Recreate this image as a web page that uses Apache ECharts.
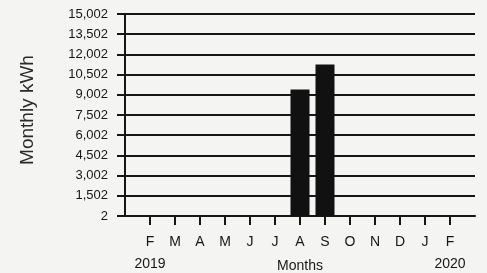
<!DOCTYPE html>
<html>
<head>
<meta charset="utf-8">
<script src="https://cdn.jsdelivr.net/npm/echarts@6/dist/echarts.min.js"></script>
<style>
	html, body { margin: 0; padding: 0; background: #f4f4f2; }
	#chart { width: 487px; height: 273px; }
</style>
</head>
<body>
<div id="chart"></div>
<script>
// month labels, empty slots pad both ends of the axis
var months = ['', 'F\n2019', 'M', 'A', 'M', 'J', 'J', 'A', 'S', 'O', 'N', 'D', 'J', 'F\n2020', ''];
// monthly kWh, only Aug and Sep have readings
var kwh = [null, null, null, null, null, null, null, 9400, 11250, null, null, null, null, null, null];
// y tick labels as printed (axis starts at 2, steps of 1500)
var yTicks = ['2', '1,502', '3,002', '4,502', '6,002', '7,502', '9,002', '10,502', '12,002', '13,502', '15,002'];
var axisBase = 2;
var step = 1500;

(function(){
	var chart = echarts.init(document.getElementById('chart'));
	var ink = '#161616';

	var barData = [];
	for(var i = 0; i < kwh.length; i++){
		barData.push(kwh[i] == null ? null : kwh[i] - axisBase);
	}

	chart.setOption({
		backgroundColor: '#f4f4f2',
		animation: false,
		grid: { left: 125, right: 12, top: 14, bottom: 57, outerBoundsMode: 'none' },
		xAxis: {
			type: 'category',
			data: months,
			boundaryGap: false,
			name: 'Months',
			nameLocation: 'middle',
			nameGap: 43,
			nameMoveOverlap: false,
			nameTextStyle: { color: ink, fontSize: 14, fontFamily: 'Liberation Sans' },
			axisLine: { lineStyle: { color: ink, width: 2 } },
			axisTick: {
				length: 9,
				lineStyle: { color: ink, width: 2 },
				interval: function(i, v){ return v !== ''; }
			},
			axisLabel: {
				interval: 0,
				margin: 15,
				color: ink,
				fontSize: 14,
				fontFamily: 'Liberation Sans',
				lineHeight: 22
			},
			splitLine: { show: false }
		},
		yAxis: {
			type: 'value',
			min: 0,
			max: 15000,
			interval: step,
			name: 'Monthly kWh',
			nameLocation: 'middle',
			nameGap: 88,
			nameTextStyle: { color: '#2a2a2a', fontSize: 19, fontFamily: 'Liberation Sans', padding: [0, 0, 0, 10] },
			axisLine: { show: true, lineStyle: { color: ink, width: 2 } },
			axisTick: { show: true, inside: false, length: 8, lineStyle: { color: ink, width: 2 } },
			axisLabel: {
				margin: 17,
				color: ink,
				fontSize: 13,
				fontFamily: 'Liberation Sans',
				formatter: function(v){ return yTicks[Math.round(v / step)]; }
			},
			splitLine: { show: true, lineStyle: { color: ink, width: 2 } }
		},
		series: [{
			type: 'bar',
			data: barData,
			barWidth: 19,
			itemStyle: { color: '#111' }
		}]
	});
})();
</script>
</body>
</html>
